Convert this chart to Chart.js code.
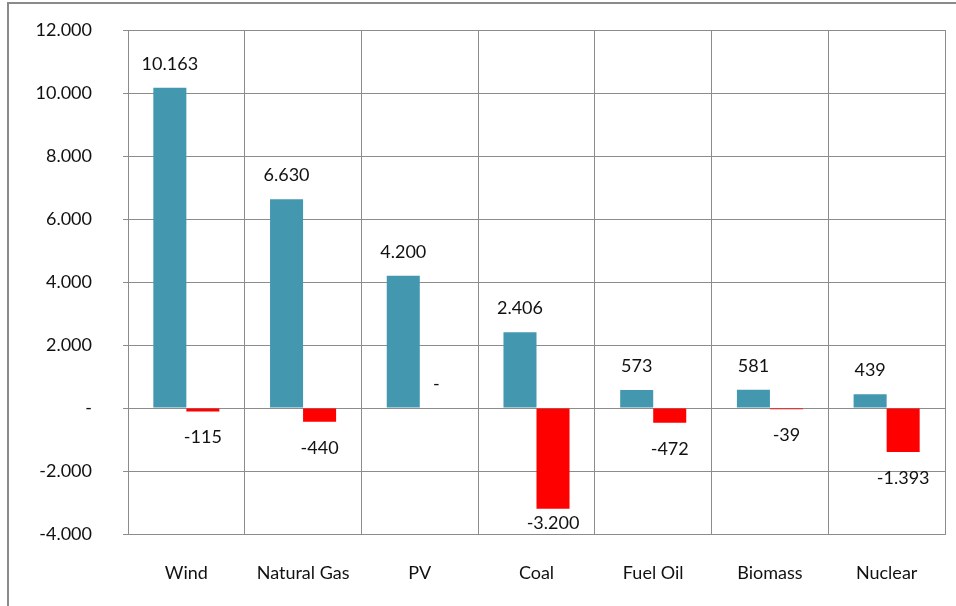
<!DOCTYPE html>
<html>
<head>
<meta charset="utf-8">
<script src="https://cdn.jsdelivr.net/npm/chart.js@4.4.1/dist/chart.umd.min.js"></script>
<style>
  html, body { margin: 0; padding: 0; background: #fff; }
  #wrap { position: relative; width: 956px; height: 606px; }
  #frame { position: absolute; left: 7px; top: 2px; right: 0; bottom: 0;
           border-top: 2px solid #8a8a8a; border-left: 2px solid #8a8a8a; pointer-events: none; }
</style>
</head>
<body>
<div id="wrap">
  <canvas id="myChart" width="956" height="606"></canvas>
  <div id="frame"></div>
</div>
<script>
const categories = ['Wind', 'Natural Gas', 'PV', 'Coal', 'Fuel Oil', 'Biomass', 'Nuclear']
const added = [10163, 6630, 4200, 2406, 573, 581, 439]
const removed = [-115, -440, 0, -3200, -472, -39, -1393]

const FONT = 'Lato, "Liberation Sans", sans-serif'

// 12.000 style, zero shown as "-"
function fmt(v) {
    if (v === 0) return '-'
    const s = Math.abs(v).toString().replace(/\B(?=(\d{3})+(?!\d))/g, '.')
    return (v < 0 ? '-' : '') + s
}

const valueLabels = {
    id: 'valueLabels',
    afterDatasetsDraw(chart) {
        const c = chart.ctx
        c.save()
        c.font = '18px ' + FONT
        c.fillStyle = '#111'
        c.textAlign = 'center'
        c.textBaseline = 'middle'
        chart.data.datasets.forEach((ds, i) => {
            chart.getDatasetMeta(i).data.forEach((bar, j) => {
                const v = ds.data[j]
                let y = v >= 0 ? bar.y - 24 : bar.y + 26
                // keep labels inside the plot area
                y = Math.min(y, chart.chartArea.bottom - 11)
                c.fillText(fmt(v), bar.x, y)
            })
        })
        c.restore()
    }
}

const ctx = document.getElementById('myChart').getContext('2d')
const myChart = new Chart(ctx, {
    type: 'bar',
    data: {
        labels: categories,
        datasets: [{
            label: 'Added',
            data: added,
            backgroundColor: '#4398b0'
        }, {
            label: 'Removed',
            data: removed,
            backgroundColor: '#ff0000'
        }]
    },
    options: {
        responsive: false,
        animation: false,
        layout: { padding: { top: 30, right: 11, left: 0, bottom: 0 } },
        datasets: { bar: { categoryPercentage: 0.566, barPercentage: 1 } },
        plugins: {
            legend: { display: false },
            tooltip: { enabled: false }
        },
        scales: {
            x: {
                grid: { offset: true, color: '#8c8c8c', drawTicks: false },
                border: { color: '#8c8c8c' },
                ticks: { color: '#111', padding: 28, font: { family: FONT, size: 18 } },
                afterFit(scale) { scale.height = 72 }
            },
            y: {
                min: -4000,
                max: 12000,
                grid: { color: '#8c8c8c', tickLength: 5 },
                border: { color: '#8c8c8c' },
                ticks: {
                    stepSize: 2000,
                    padding: 31,
                    color: '#111',
                    font: { family: FONT, size: 18 },
                    callback: v => fmt(v)
                },
                afterFit(scale) {
                    scale.width = 128
                    // tick padding would otherwise push the plot top down
                    scale.paddingTop = 0
                    scale.paddingBottom = 0
                }
            }
        }
    },
    plugins: [valueLabels]
})
</script>
</body>
</html>
